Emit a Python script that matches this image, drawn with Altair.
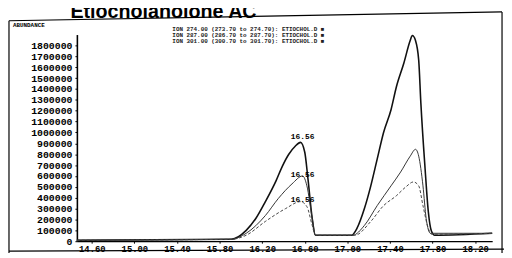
import altair as alt
import pandas as pd

title_text = "Etiocholanolone AC"
corner_text = "ABUNDANCE"
legend_lines = [
    "ION 274.00 (273.70 to 274.70): ETIOCHOL.D  ■",
    "ION 287.00 (286.70 to 287.70): ETIOCHOL.D  ■",
    "ION 301.00 (300.70 to 301.70): ETIOCHOL.D  ■",
]
y_ticks = list(range(0, 1900000, 100000))
x_ticks = [14.6, 15.0, 15.4, 15.8, 16.2, 16.6, 17.0, 17.4, 17.8, 18.2]
x_domain = [14.46, 18.36]
y_domain = [0, 1900000]

top_t = [14.46, 15.91, 16.05, 16.14, 16.23, 16.33, 16.39, 16.45, 16.51, 16.56,
         16.60, 16.63, 16.67, 16.70, 17.02, 17.04, 17.09, 17.16, 17.22, 17.28,
         17.34, 17.41, 17.46, 17.53, 17.59, 17.61, 17.64, 17.67, 17.69, 17.73,
         17.76, 17.79, 17.82, 18.36]
top_v = [9000, 18000, 100000, 209000, 364000, 555000, 691000, 800000, 873000, 909000,
         818000, 573000, 209000, 55000, 55000, 55000, 118000, 300000, 509000, 755000,
         1000000, 1209000, 1418000, 1636000, 1845000, 1891000, 1845000, 1664000, 1273000, 664000,
         273000, 91000, 55000, 73000]

mid_t = [14.46, 15.91, 16.05, 16.23, 16.35, 16.48, 16.58, 16.62, 16.67, 16.70,
         17.05, 17.16, 17.28, 17.41, 17.50, 17.59, 17.64, 17.67, 17.71, 17.74,
         17.78, 18.36]
mid_v = [9000, 18000, 73000, 236000, 391000, 527000, 600000, 509000, 209000, 55000,
         55000, 145000, 327000, 509000, 636000, 782000, 845000, 782000, 509000, 209000,
         73000, 73000]

low_t = [14.46, 15.91, 16.05, 16.23, 16.42, 16.56, 16.62, 16.67, 16.70, 17.07,
         17.22, 17.34, 17.46, 17.55, 17.62, 17.67, 17.71, 17.76, 17.79, 18.36]
low_v = [9000, 18000, 55000, 182000, 300000, 364000, 318000, 145000, 55000, 55000,
         182000, 327000, 418000, 500000, 545000, 509000, 327000, 118000, 64000, 73000]

peak_labels = ["16.56", "16.56", "16.56"]
peak_label_t = [16.58, 16.58, 16.58]
peak_label_v = [955000, 610000, 380000]

W, H = 422, 210

xs = alt.Scale(domain=x_domain, nice=False, zero=False)
ys = alt.Scale(domain=y_domain, nice=False)

x_axis = alt.Axis(values=x_ticks, format=".2f", title=None, grid=False,
                  labelFont="Liberation Mono", labelFontWeight="bold", labelFontSize=9,
                  labelColor="black", labelPadding=1, labelOverlap=False, labelFlush=False,
                  domainColor="black", domainWidth=1.2,
                  tickColor="black", tickSize=2)
y_axis = alt.Axis(values=y_ticks, format="d", title=None, grid=False,
                  labelFont="Liberation Mono", labelFontWeight="bold", labelFontSize=10,
                  labelColor="black", labelPadding=3, labelOverlap=False, labelFlush=False,
                  labelBound=False,
                  domainColor="black", domainWidth=1.6,
                  tickColor="black", tickSize=2)


def series(ts, vs):
    return pd.DataFrame({"t": ts, "v": vs})


base_enc = dict(
    x=alt.X("t:Q", scale=xs, axis=x_axis),
    y=alt.Y("v:Q", scale=ys, axis=y_axis),
)

top_line = alt.Chart(series(top_t, top_v)).mark_line(
    color="#111", strokeWidth=1.6, interpolate="monotone").encode(**base_enc)
mid_line = alt.Chart(series(mid_t, mid_v)).mark_line(
    color="#333", strokeWidth=1.0, interpolate="monotone").encode(**base_enc)
low_line = alt.Chart(series(low_t, low_v)).mark_line(
    color="#444", strokeWidth=1.0, strokeDash=[3, 2], interpolate="monotone").encode(**base_enc)

peaks = alt.Chart(pd.DataFrame({"t": peak_label_t, "v": peak_label_v, "lab": peak_labels})).mark_text(
    font="Liberation Mono", fontWeight="bold", fontSize=8, color="black", align="center"
).encode(text="lab:N", **base_enc)

one = pd.DataFrame({"a": [0]})

title = alt.Chart(one).mark_text(
    text=title_text, font="Liberation Sans", fontWeight="bold", fontSize=20,
    color="black", align="center", baseline="alphabetic"
).encode(x=alt.value(88), y=alt.value(-17))

corner = alt.Chart(one).mark_text(
    text=corner_text, font="Liberation Mono", fontWeight="bold", fontSize=6,
    color="black", align="left", baseline="middle"
).encode(x=alt.value(-65), y=alt.value(-10))

legend = alt.Chart(one).mark_text(
    text="\n".join(legend_lines), lineBreak="\n", lineHeight=6.5,
    font="Liberation Mono", fontWeight="bold", fontSize=6,
    color="#222", align="left", baseline="top"
).encode(x=alt.value(97), y=alt.value(-9))

rule_kw = dict(color="black", strokeWidth=1.2)
frame_top = alt.Chart(one).mark_rule(**rule_kw).encode(
    x=alt.value(-69), y=alt.value(-14), x2=alt.value(432), y2=alt.value(-23))
frame_right = alt.Chart(one).mark_rule(**rule_kw).encode(
    x=alt.value(432), y=alt.value(-23), x2=alt.value(432), y2=alt.value(222))
frame_left = alt.Chart(one).mark_rule(**rule_kw).encode(
    x=alt.value(-69), y=alt.value(-14), x2=alt.value(-69), y2=alt.value(222))
frame_bottom = alt.Chart(one).mark_rule(**rule_kw).encode(
    x=alt.value(-69), y=alt.value(220), x2=alt.value(434), y2=alt.value(218))

chart = alt.layer(
    frame_top, frame_right, frame_left, frame_bottom,
    top_line, mid_line, low_line, peaks, title, corner, legend
).properties(
    width=W, height=H,
    padding={"left": 70, "top": 25, "right": 12, "bottom": 11},
    autosize="none",
    background="white",
).configure_view(stroke=None)

chart.save("out.html", embed_options={"renderer": "svg", "actions": False})
